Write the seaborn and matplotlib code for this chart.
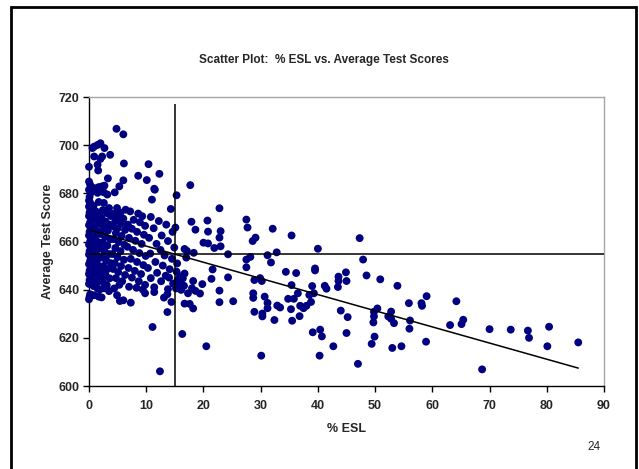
import numpy as np
import pandas as pd
import matplotlib
matplotlib.use("Agg")
import matplotlib.pyplot as plt
from matplotlib.patches import Rectangle
import seaborn as sns

sns.set_style("white")
plt.rcParams['font.family'] = ['Liberation Sans', 'DejaVu Sans']

# districts with almost no ESL pupils (x about 0)
esl_zero = [0.0, 0.0, 0.2, 0.0, 0.3, 0.1, 0.0, 0.2, 0.0, 0.3, 0.1, 0.0, 0.4, 0.2, 0.0, 0.3, 0.1, 0.0,
            0.4, 0.2, 0.0, 0.3, 0.1, 0.0, 0.4, 0.2, 0.0, 0.3, 0.1, 0.0, 0.3, 0.1, 0.0, 0.2, 0.0, 0.1]
score_zero = [691.0, 684.9, 683.6, 681.5, 680.2, 678.5, 677.0, 676.1, 674.5, 673.2, 672.0, 670.6,
              669.5, 668.0, 666.8, 665.2, 664.0, 662.5, 661.3, 660.0, 658.7, 657.4, 656.0, 654.6,
              653.3, 652.0, 650.6, 649.2, 647.9, 646.5, 645.2, 644.0, 642.4, 638.1, 636.0, 637.0]

# 0.5 - 4 % ESL
esl_low = [0.9, 0.6, 1.5, 2.0, 0.9, 2.3, 2.0, 1.5, 1.6, 0.9, 1.7, 1.5, 1.7, 0.8, 1.2, 1.8, 0.7, 1.4,
           1.9, 0.8, 1.3, 1.8, 0.7, 1.2, 1.9, 0.9, 1.5, 0.6, 1.3, 1.9, 0.8, 1.4, 0.7, 1.6, 1.0, 1.8,
           0.6, 1.3, 0.8, 1.5, 0.9, 1.7, 1.9,
           2.7, 3.7, 3.3, 2.3, 2.7, 2.6, 3.2, 2.6, 3.5, 2.4, 3.1, 3.8, 2.2, 2.9, 3.6, 2.5, 3.3, 2.1,
           2.8, 3.7, 2.4, 3.2, 2.0, 2.7, 3.5, 2.3, 3.0, 3.8, 2.5, 3.2, 2.1, 2.9, 3.6, 2.4, 3.1, 2.6,
           3.5, 2.2]
score_low = [699.4, 698.8, 700.1, 700.8, 695.3, 695.3, 694.3, 691.9, 689.5, 682.2, 682.6, 680.2,
             676.4, 674.8, 672.5, 671.0, 670.0, 668.6, 667.4, 666.0, 664.6, 663.2, 662.0, 660.6,
             659.5, 658.2, 657.0, 655.8, 654.5, 653.2, 652.0, 650.7, 649.3, 648.0, 646.6, 645.3,
             644.1, 642.8, 641.5, 640.5, 637.7, 637.1, 640.1,
             698.8, 696.0, 686.2, 682.9, 683.2, 680.4, 679.5, 676.0, 673.9, 673.0, 671.8, 670.6,
             669.6, 668.3, 667.0, 665.8, 664.5, 663.2, 662.0, 660.9, 659.6, 658.3, 657.1, 655.9,
             654.8, 653.5, 652.2, 651.0, 649.8, 648.5, 647.2, 646.0, 644.7, 643.3, 641.9, 640.6,
             639.4, 636.8]

# 4 - 15 % ESL
esl_mid = [4.8, 6.0, 6.1, 5.3, 6.0, 4.5, 4.9, 6.4, 5.5, 4.3, 5.1, 6.0, 4.6, 5.6, 4.2, 5.0, 6.3, 4.7,
           5.7, 4.3, 5.2, 6.2, 4.6, 5.5, 4.1, 5.0, 6.1, 4.5, 5.6, 4.2, 5.1, 6.3, 4.7, 5.8, 4.4, 4.9,
           5.4, 6.0, 5.3,
           8.6, 10.1, 10.4, 8.6, 7.2, 9.3, 7.8, 8.9, 6.8, 9.8, 7.5, 8.4, 9.6, 7.0, 8.1, 9.2, 6.7, 7.7,
           8.8, 9.9, 7.3, 8.4, 9.5, 6.9, 8.0, 9.1, 7.5, 8.7, 9.8, 7.3, 9.8, 8.3, 9.4, 7.0,
           12.3, 11.4, 11.5, 11.0, 14.3, 10.8, 12.2, 13.5, 11.3, 14.6, 12.7, 10.5, 13.8, 11.8, 14.9,
           12.5, 10.7, 13.2, 14.5, 11.6, 12.9, 10.3, 14.1, 11.9, 13.4, 10.8, 12.6, 14.7, 11.4, 13.8,
           11.4, 13.1, 13.7, 14.4, 13.7, 11.1, 12.4, 14.0]
score_mid = [706.8, 704.5, 692.4, 682.9, 685.4, 680.4, 673.9, 673.2, 672.0, 671.5, 670.3, 669.5,
             668.6, 667.4, 666.3, 665.5, 664.8, 663.5, 662.3, 661.0, 659.8, 658.6, 657.3, 656.0,
             654.8, 653.5, 652.4, 651.0, 649.8, 648.6, 647.3, 646.1, 644.8, 643.5, 640.5, 637.7,
             635.3, 635.6, 642.0,
             687.3, 685.5, 692.1, 671.6, 672.5, 670.5, 669.0, 668.0, 667.0, 666.5, 665.3, 664.0,
             662.8, 661.5, 660.3, 659.0, 657.8, 656.5, 655.2, 654.0, 652.8, 651.5, 650.2, 649.0,
             647.8, 646.5, 645.0, 643.5, 642.0, 634.6, 638.5, 640.8, 640.0, 641.2,
             688.1, 681.9, 681.5, 677.4, 673.5, 670.2, 668.5, 667.0, 665.5, 664.0, 662.5, 661.5,
             660.2, 659.0, 657.5, 656.5, 655.0, 654.2, 652.8, 651.5, 650.0, 649.0, 648.5, 647.0,
             645.8, 644.8, 643.5, 642.5, 641.0, 640.2, 639.0, 636.7, 638.1, 634.9, 630.7, 624.5,
             606.1, 645.0]

# above 15 % ESL
esl_high = [15.1, 17.7, 22.8, 17.9, 18.6, 20.7, 20.8, 23.0, 22.8, 23.0, 20.0, 20.8, 21.9, 24.3,
            18.3, 16.7, 17.1, 17.0, 15.4, 21.6, 21.4, 24.3, 18.2, 16.7, 16.4, 15.7, 16.1, 17.3,
            18.6, 19.4, 19.8, 22.8, 22.8, 25.2, 16.7, 17.6, 18.2, 16.3, 20.5, 15.3, 16.0, 16.6,
            15.9, 15.3, 15.5, 15.2, 18.0,
            27.5, 27.7, 29.1, 28.6, 32.1, 35.4, 31.2, 31.8, 32.8, 27.5, 28.2, 27.5, 28.9, 29.9, 30.2,
            28.7, 28.7, 30.7, 31.2, 31.2, 28.9, 30.3, 30.3, 32.4, 32.9, 33.4, 30.1, 34.4, 35.4, 36.2,
            34.8, 35.3, 35.8, 35.5, 36.5, 36.9, 36.8, 37.5, 38.0, 38.8, 38.5, 39.3, 39.0, 39.5, 39.5,
            40.0, 39.1, 40.4, 40.7, 40.3, 41.2, 41.5, 43.6, 43.6, 43.5, 44.9, 45.0, 44.0, 45.2, 45.0,
            42.7, 47.3, 47.9, 48.5, 47.0, 50.9, 50.4, 49.8, 49.8, 49.7, 49.9, 49.4, 52.8, 52.3, 52.8,
            53.3, 53.0, 53.9, 54.6, 55.9, 56.1, 56.0, 58.1, 58.2, 59.0, 58.9, 63.1, 64.2, 65.1, 65.4,
            68.7, 70.0, 73.7, 76.7, 76.9, 80.4, 80.1, 85.5]
score_high = [665.8, 683.4, 673.8, 668.2, 664.9, 668.7, 664.1, 664.3, 661.6, 658.0, 659.5, 659.2,
              657.3, 654.7, 655.3, 656.9, 656.1, 653.3, 650.9, 648.4, 644.5, 645.1, 643.6, 646.7,
              644.7, 642.9, 639.9, 638.5, 639.5, 638.4, 642.3, 639.6, 634.8, 635.2, 634.2, 634.1,
              632.2, 621.6, 616.5, 679.2, 641.2, 641.6, 645.5, 647.5, 644.0, 640.5, 640.6,
              669.1, 665.8, 661.6, 660.2, 665.3, 662.5, 654.3, 651.3, 655.5, 652.5, 653.6, 649.3,
              644.0, 644.8, 643.6, 638.5, 636.6, 637.1, 634.5, 632.3, 630.8, 630.1, 628.9, 627.4,
              633.4, 632.6, 612.6, 647.4, 641.9, 646.9, 636.2, 631.9, 636.2, 627.1, 638.5, 633.3,
              629.0, 632.3, 633.3, 634.9, 637.8, 638.5, 641.5, 648.8, 648.0, 657.0, 622.3, 623.4,
              620.6, 612.6, 641.6, 640.4, 645.4, 643.6, 641.1, 647.2, 643.6, 631.3, 628.6, 622.0,
              616.5, 661.4, 652.5, 645.9, 609.2, 644.3, 632.2, 630.8, 628.9, 626.4, 620.5, 617.5,
              630.9, 628.9, 627.9, 626.1, 615.8, 641.6, 616.5, 634.4, 627.2, 623.8, 634.4, 633.3,
              637.3, 618.4, 625.3, 635.2, 625.7, 627.5, 606.9, 623.6, 623.4, 623.0, 620.0, 624.6,
              616.5, 618.1]

# reference lines as drawn on the chart
mean_esl = 15.1
mean_score = 654.8
fit_intercept = 664.8
fit_slope = -0.671

df = pd.DataFrame({
    'esl': esl_zero + esl_low + esl_mid + esl_high,
    'score': score_zero + score_low + score_mid + score_high,
})

fig = plt.figure(figsize=(6.39, 4.69), dpi=100)
ax = fig.add_axes([89 / 639, 1 - 386 / 469, (604 - 89) / 639, (386 - 97) / 469])

sns.scatterplot(data=df, x='esl', y='score', ax=ax, color='#000080', s=32,
                edgecolor='none', linewidth=0, clip_on=False, zorder=3)

ax.vlines(mean_esl, 600, 717, color='black', lw=1.1, zorder=4)
ax.hlines(mean_score, 0, 90, color='black', lw=1.1, zorder=4)
xfit = np.array([0, df['esl'].max()])
ax.plot(xfit, fit_intercept + fit_slope * xfit, color='black', lw=1.1, zorder=4)

ax.set_xlim(0, 90)
ax.set_ylim(600, 720)
ax.set_xticks(range(0, 91, 10))
ax.set_yticks(range(600, 721, 20))
for s in ['left', 'bottom']:
    ax.spines[s].set_color('black')
    ax.spines[s].set_linewidth(1.0)
for s in ['top', 'right']:
    ax.spines[s].set_color('#a6a6a6')
    ax.spines[s].set_linewidth(1.0)
ax.tick_params(direction='out', length=4, width=1, color='black', labelsize=9,
               bottom=True, left=True)
ax.tick_params(axis='x', pad=6)
ax.tick_params(axis='y', pad=3)
for lab in ax.get_xticklabels() + ax.get_yticklabels():
    lab.set_fontweight('bold')

ax.set_xlabel('% ESL', fontsize=9, fontweight='bold', labelpad=8)
ax.set_ylabel('Average Test Score', fontsize=9, fontweight='bold', labelpad=3)

fig.text(324 / 639, 1 - 60 / 469, 'Scatter Plot:  % ESL vs. Average Test Scores',
         ha='center', va='center', fontsize=8.5, fontweight='bold')
fig.text(594 / 639, 1 - 447 / 469, '24', ha='center', va='center', fontsize=8.5)

fig.add_artist(Rectangle((11 / 639, -0.1), (636 - 11) / 639, 1.1 - 7 / 469,
                         transform=fig.transFigure, fill=False, lw=2, ec='black'))

fig.savefig('out.png', dpi=100)
